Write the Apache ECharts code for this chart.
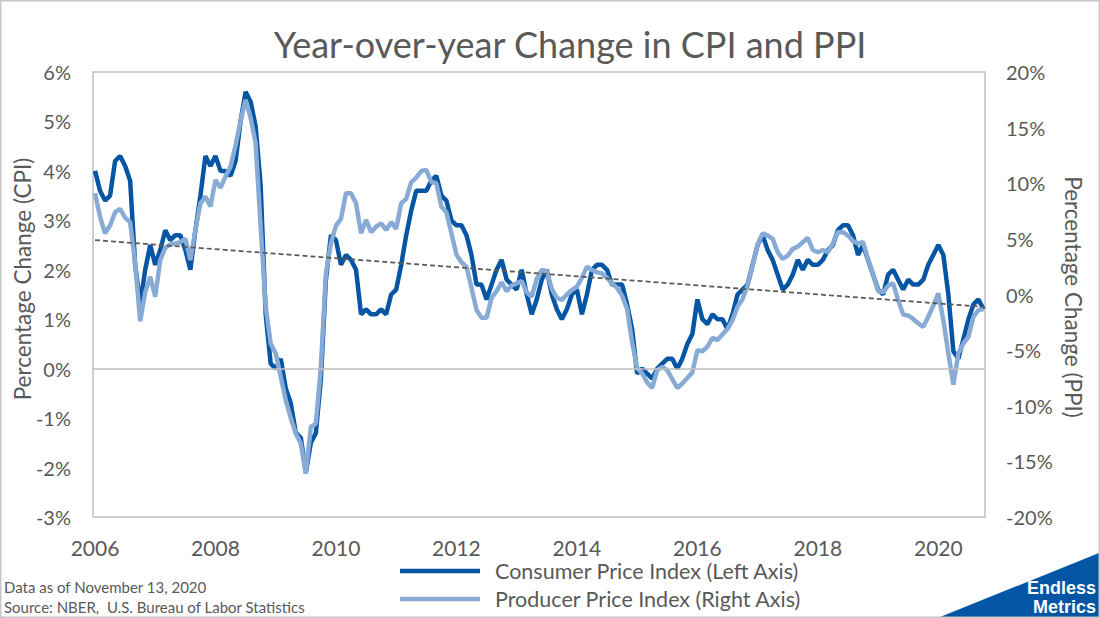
<!DOCTYPE html>
<html>
<head>
<meta charset="utf-8">
<title>Year-over-year Change in CPI and PPI</title>
<script src="https://cdn.jsdelivr.net/npm/echarts@6.0.0/dist/echarts.min.js"></script>
<style>
  html, body { margin: 0; padding: 0; background: #ffffff; }
  #chart-container { width: 1100px; height: 618px; }
</style>
</head>
<body>
<div id="chart-container"></div>
<script>
// monthly data, Jan 2006 .. Oct 2020
var startYear = 2006;
var yearLabels = [2006, 2008, 2010, 2012, 2014, 2016, 2018, 2020];

// CPI, year-over-year % (left axis)
var cpi = [
    4.0, 3.6, 3.4, 3.5, 4.2, 4.3, 4.1, 3.8, 2.1, 1.3, 2.0, 2.5,
    2.1, 2.4, 2.8, 2.6, 2.7, 2.7, 2.4, 2.0, 2.8, 3.5, 4.3, 4.1,
    4.3, 4.0, 4.0, 3.9, 4.2, 5.0, 5.6, 5.4, 4.9, 3.7, 1.1, 0.1,
    0.0, 0.2, -0.4, -0.7, -1.3, -1.4, -2.1, -1.5, -1.3, -0.2, 1.8, 2.7,
    2.6, 2.1, 2.3, 2.2, 2.0, 1.1, 1.2, 1.1, 1.1, 1.2, 1.1, 1.5,
    1.6, 2.1, 2.7, 3.2, 3.6, 3.6, 3.6, 3.8, 3.9, 3.5, 3.4, 3.0,
    2.9, 2.9, 2.7, 2.3, 1.7, 1.7, 1.4, 1.7, 2.0, 2.2, 1.8, 1.7,
    1.6, 2.0, 1.5, 1.1, 1.4, 1.8, 2.0, 1.5, 1.2, 1.0, 1.2, 1.5,
    1.6, 1.1, 1.5, 2.0, 2.1, 2.1, 2.0, 1.7, 1.7, 1.7, 1.3, 0.8,
    -0.1, 0.0, -0.1, -0.2, 0.0, 0.1, 0.2, 0.2, 0.0, 0.2, 0.5, 0.7,
    1.4, 1.0, 0.9, 1.1, 1.0, 1.0, 0.8, 1.1, 1.5, 1.6, 1.7, 2.1,
    2.5, 2.7, 2.4, 2.2, 1.9, 1.6, 1.7, 1.9, 2.2, 2.0, 2.2, 2.1,
    2.1, 2.2, 2.4, 2.5, 2.8, 2.9, 2.9, 2.7, 2.3, 2.5, 2.2, 1.9,
    1.6, 1.5, 1.9, 2.0, 1.8, 1.6, 1.8, 1.7, 1.7, 1.8, 2.1, 2.3,
    2.5, 2.3, 1.5, 0.35, 0.2, 0.6, 1.0, 1.3, 1.4, 1.2
];

// PPI, year-over-year % (right axis)
var ppi = [
    9.1, 7.0, 5.5, 6.2, 7.4, 7.7, 6.9, 6.5, 2.8, -2.4, 0.2, 1.6,
    -0.2, 3.1, 4.2, 4.5, 4.6, 4.7, 5.0, 3.1, 5.8, 8.2, 8.8, 7.9,
    10.3, 9.6, 10.6, 11.5, 13.4, 15.6, 17.5, 15.9, 13.6, 6.1, -1.1, -4.4,
    -5.3, -7.4, -9.5, -11.1, -12.5, -13.4, -16.1, -11.9, -11.6, -6.5, 1.9, 4.6,
    6.2, 6.8, 9.1, 9.1, 8.2, 5.5, 6.7, 5.6, 6.1, 6.4, 5.8, 6.5,
    5.9, 8.2, 8.6, 10.1, 10.5, 11.1, 11.2, 10.1, 10.0, 7.9, 7.4, 5.5,
    3.6, 2.9, 2.5, 0.6, -1.4, -2.1, -2.1, -0.3, 0.3, 1.1, 0.3, 0.8,
    1.0, 1.2, 0.2, -0.2, 1.4, 2.2, 2.1, 0.5, -0.3, -0.5, 0.0, 0.4,
    0.7, 1.5, 2.5, 2.2, 2.0, 1.9, 1.5, 1.0, 0.6, -0.1, -1.3, -4.3,
    -6.6, -7.1, -7.9, -8.4, -6.8, -6.5, -6.8, -7.6, -8.4, -8.0, -7.5, -7.0,
    -5.0, -5.1, -4.7, -3.9, -4.1, -3.6, -3.1, -2.3, -1.1, -0.4, 0.8, 2.6,
    4.5, 5.5, 5.3, 5.0, 3.8, 3.2, 3.5, 4.1, 4.3, 4.7, 5.1, 4.0,
    3.8, 4.0, 3.8, 4.6, 5.6, 5.6, 5.3, 4.8, 4.6, 4.7, 3.2, 1.8,
    0.3, 0.2, 0.8, 1.0, -0.5, -1.8, -1.9, -2.2, -2.6, -2.9, -2.0, -1.0,
    0.1, -2.3, -5.3, -8.1, -5.3, -4.4, -3.8, -2.0, -1.4, -1.3
];

// linear trend of CPI, value at first and last month
var trendEnds = [2.6, 1.25];

var seriesNames = ['Consumer Price Index (Left Axis)', 'Producer Price Index (Right Axis)'];

var textColor = '#595959';
var fontFamily = 'Lato, "Open Sans", sans-serif';
var logoFont = '"Liberation Sans", Arial, sans-serif';
var cpiColor = '#0455A4';
var ppiColor = '#88ABD6';

function toPoints(values) {
    return values.map(function (v, i) {
        return [startYear + i / 12, v];
    });
}
var lastX = startYear + (cpi.length - 1) / 12;

var dom = document.getElementById('chart-container');
var myChart = echarts.init(dom, null, {
    renderer: 'svg'
});

var option = {
    animation: false,
    backgroundColor: '#ffffff',
    grid: {
        left: 93,
        top: 72,
        width: 892,
        height: 445,
        show: true,
        borderColor: '#BFBFBF',
        borderWidth: 1.5,
        backgroundColor: 'transparent'
    },
    legend: {
        data: seriesNames,
        orient: 'vertical',
        left: 395,
        top: 555,
        icon: 'rect',
        itemWidth: 80,
        itemHeight: 4.5,
        itemGap: 6,
        textStyle: {
            color: textColor,
            fontSize: 21.5,
            fontFamily: fontFamily,
            padding: [0, 0, 0, 10]
        }
    },
    xAxis: {
        type: 'value',
        min: startYear - 0.4 / 12,
        max: lastX + 0.3 / 12,
        axisLine: { show: false },
        axisTick: { show: false },
        splitLine: { show: false },
        axisLabel: {
            customValues: yearLabels,
            formatter: function (v) { return String(Math.round(v)); },
            color: textColor,
            fontSize: 21,
            fontFamily: fontFamily,
            margin: 20
        }
    },
    yAxis: [
        {
            type: 'value',
            min: -3,
            max: 6,
            interval: 1,
            axisLine: { show: false },
            axisTick: { show: false },
            splitLine: { show: false },
            axisLabel: {
                formatter: '{value}%',
                color: textColor,
                fontSize: 20,
                fontFamily: fontFamily,
                margin: 22
            }
        },
        {
            type: 'value',
            position: 'right',
            min: -20,
            max: 20,
            interval: 5,
            axisLine: { show: false },
            axisTick: { show: false },
            splitLine: { show: false },
            axisLabel: {
                formatter: '{value}%',
                color: textColor,
                fontSize: 20,
                fontFamily: fontFamily,
                margin: 21
            }
        }
    ],
    series: [
        {
            name: seriesNames[0],
            type: 'line',
            yAxisIndex: 0,
            data: toPoints(cpi),
            symbol: 'none',
            z: 2,
            lineStyle: { color: cpiColor, width: 4.5 },
            itemStyle: { color: cpiColor },
            markLine: {
                silent: true,
                symbol: ['none', 'none'],
                label: { show: false },
                lineStyle: { color: '#BFBFBF', width: 1.5, type: 'solid' },
                data: [{ yAxis: 0 }]
            }
        },
        {
            name: seriesNames[1],
            type: 'line',
            yAxisIndex: 1,
            data: toPoints(ppi),
            symbol: 'none',
            z: 3,
            lineStyle: { color: ppiColor, width: 4.5 },
            itemStyle: { color: ppiColor }
        },
        {
            name: 'CPI trend',
            type: 'line',
            yAxisIndex: 0,
            data: [[startYear, trendEnds[0]], [lastX, trendEnds[1]]],
            symbol: 'none',
            silent: true,
            z: 4,
            lineStyle: { color: '#595959', width: 1.75, type: [5, 3] }
        }
    ],
    graphic: [
        {
            type: 'text',
            x: 570,
            y: 44,
            style: {
                text: 'Year-over-year Change in CPI and PPI',
                fill: textColor,
                fontSize: 36,
                fontFamily: fontFamily,
                align: 'center',
                verticalAlign: 'middle'
            }
        },
        {
            type: 'text',
            x: 22,
            y: 279,
            rotation: Math.PI / 2,
            style: {
                text: 'Percentage Change (CPI)',
                fill: textColor,
                fontSize: 22.5,
                fontFamily: fontFamily,
                align: 'center',
                verticalAlign: 'middle'
            }
        },
        {
            type: 'text',
            x: 1073,
            y: 297,
            rotation: -Math.PI / 2,
            style: {
                text: 'Percentage Change (PPI)',
                fill: textColor,
                fontSize: 22.5,
                fontFamily: fontFamily,
                align: 'center',
                verticalAlign: 'middle'
            }
        },
        {
            type: 'text',
            x: 4,
            y: 597,
            style: {
                text: 'Data as of November 13, 2020\nSource: NBER,  U.S. Bureau of Labor Statistics',
                fill: textColor,
                fontSize: 15,
                lineHeight: 20,
                fontFamily: fontFamily,
                align: 'left',
                verticalAlign: 'middle'
            }
        },
        {
            type: 'polygon',
            shape: { points: [[940, 617], [1099, 553], [1099, 617]] },
            style: { fill: cpiColor }
        },
        {
            type: 'text',
            x: 1096,
            y: 588,
            style: {
                text: 'Endless',
                fill: '#ffffff',
                fontSize: 18,
                fontWeight: 'bold',
                fontFamily: logoFont,
                align: 'right',
                verticalAlign: 'middle'
            }
        },
        {
            type: 'text',
            x: 1096,
            y: 607,
            style: {
                text: 'Metrics',
                fill: '#ffffff',
                fontSize: 18,
                fontWeight: 'bold',
                fontFamily: logoFont,
                align: 'right',
                verticalAlign: 'middle'
            }
        },
        {
            type: 'rect',
            shape: { x: 0.75, y: 0.75, width: 1098.5, height: 616.5 },
            style: { fill: 'none', stroke: '#C8C8C8', lineWidth: 1.5 }
        }
    ]
};

if (option && typeof option === 'object') {
    myChart.setOption(option);
}

window.addEventListener('resize', myChart.resize);
</script>
</body>
</html>
